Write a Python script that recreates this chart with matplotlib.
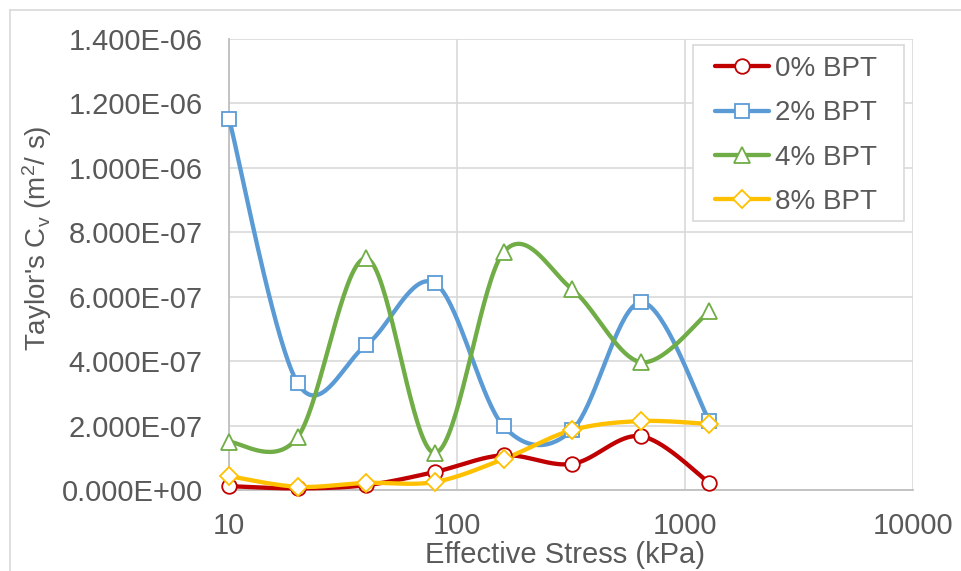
import numpy as np
import matplotlib
matplotlib.use('Agg')
import matplotlib.pyplot as plt
from matplotlib.lines import Line2D
from matplotlib.patches import Rectangle

plt.rcParams['font.family'] = ['Liberation Sans', 'DejaVu Sans']
plt.rcParams['mathtext.default'] = 'regular'

# Data
stress = [10, 20, 40, 80, 160, 320, 640, 1280]
cv_0 = [1.2e-8, 5e-9, 1.5e-8, 5.6e-8, 1.08e-7, 8.1e-8, 1.67e-7, 2.2e-8]
cv_2 = [1.153e-6, 3.32e-7, 4.50e-7, 6.42e-7, 1.98e-7, 1.86e-7, 5.83e-7, 2.14e-7]
cv_4 = [1.49e-7, 1.64e-7, 7.19e-7, 1.15e-7, 7.38e-7, 6.23e-7, 3.97e-7, 5.55e-7]
cv_8 = [4.3e-8, 1.0e-8, 2.2e-8, 2.5e-8, 9.6e-8, 1.86e-7, 2.14e-7, 2.05e-7]
labels = ['0% BPT', '2% BPT', '4% BPT', '8% BPT']
yticks = np.arange(0, 1.41e-6, 2e-7)
ytick_labels = ['0.000E+00', '2.000E-07', '4.000E-07', '6.000E-07',
                '8.000E-07', '1.000E-06', '1.200E-06', '1.400E-06']
xticks = [10, 100, 1000, 10000]

colors = ['#c00000', '#5b9bd5', '#70ad47', '#ffc000']
markers = ['o', 's', '^', 'D']
msizes = [10.5, 10.5, 11, 9]
text_col = '#595959'


def smooth(xs, ys, n=40):
    # Excel style smoothed line: Catmull-Rom bezier in log-x space
    lx = np.log10(xs)
    p = np.column_stack([lx, ys])
    pts = []
    for i in range(len(p) - 1):
        p0 = p[i - 1] if i > 0 else p[i]
        p1, p2 = p[i], p[i + 1]
        p3 = p[i + 2] if i + 2 < len(p) else p[i + 1]
        c1 = p1 + (p2 - p0) / 6
        c2 = p2 - (p3 - p1) / 6
        t = np.linspace(0, 1, n)[:, None]
        seg = (1 - t) ** 3 * p1 + 3 * (1 - t) ** 2 * t * c1 + 3 * (1 - t) * t ** 2 * c2 + t ** 3 * p2
        pts.append(seg if i == 0 else seg[1:])
    pts = np.vstack(pts)
    return 10 ** pts[:, 0], pts[:, 1]


fig = plt.figure(figsize=(9.61, 5.71), dpi=100)
W, H = 961, 571
ax = fig.add_axes([229 / W, 1 - 490 / H, (913 - 229) / W, (490 - 39) / H])

# outer chart border (top and left only visible)
fig.add_artist(Line2D([10 / W, 1], [1 - 10 / H, 1 - 10 / H], color='#d9d9d9', lw=1.2))
fig.add_artist(Line2D([10 / W, 10 / W], [0, 1 - 10 / H], color='#d9d9d9', lw=1.2))

handles = []
for ys, c, m, ms, lab in zip([cv_0, cv_2, cv_4, cv_8], colors, markers, msizes, labels):
    sx, sy = smooth(stress, ys)
    ax.plot(sx, sy, color=c, lw=3.1, solid_capstyle='round', zorder=3, clip_on=False)
    ax.plot(stress, ys, linestyle='none', marker=m, ms=ms, mfc='white', mec=c,
            mew=1.3, zorder=4, clip_on=False)
    handles.append(Line2D([], [], color=c, lw=3.1, marker=m, ms=ms, mfc='white',
                          mec=c, mew=1.3, solid_capstyle='round'))

ax.set_xscale('log')
ax.set_xlim(10, 10000)
ax.set_ylim(0, 1.4e-6)
ax.set_xticks(xticks)
ax.set_xticklabels([str(x) for x in xticks])
ax.xaxis.set_minor_locator(plt.NullLocator())
ax.set_yticks(yticks)
ax.set_yticklabels(ytick_labels)
ax.tick_params(axis='both', length=0, labelsize=21, labelcolor=text_col)
ax.tick_params(axis='y', pad=19)
ax.tick_params(axis='x', pad=16)

ax.grid(True, color='#d9d9d9', lw=1.2)
ax.set_axisbelow(True)
for s in ['top', 'right']:
    ax.spines[s].set_visible(False)
for s in ['left', 'bottom']:
    ax.spines[s].set_color('#bfbfbf')
    ax.spines[s].set_linewidth(1.3)

fig.text(565 / W, 1 - 563 / H, 'Effective Stress (kPa)', ha='center', va='baseline',
         fontsize=21, color=text_col)
fig.text(37 / W, 1 - 238 / H, "Taylor's C$_v$ (m$^2$/ s)", ha='center', va='center',
         rotation=90, fontsize=20, color=text_col)

# legend frame drawn separately so the padding matches
frame = Rectangle((693 / W, 1 - 221 / H), (904 - 693) / W, (221 - 45) / H,
                  transform=fig.transFigure, fill=True, fc='white',
                  ec='#d9d9d9', lw=1.2, zorder=5, clip_on=False)
ax.add_patch(frame)
leg = ax.legend(handles, labels, loc='upper left',
                bbox_to_anchor=(715 / W, 1 - 56 / H), bbox_transform=fig.transFigure,
                borderaxespad=0, borderpad=0, fontsize=20, handlelength=1.95,
                handletextpad=0.2, labelspacing=0.66, frameon=False)
leg.set_zorder(6)
for t in leg.get_texts():
    t.set_color(text_col)

fig.savefig('out.png', dpi=100)
